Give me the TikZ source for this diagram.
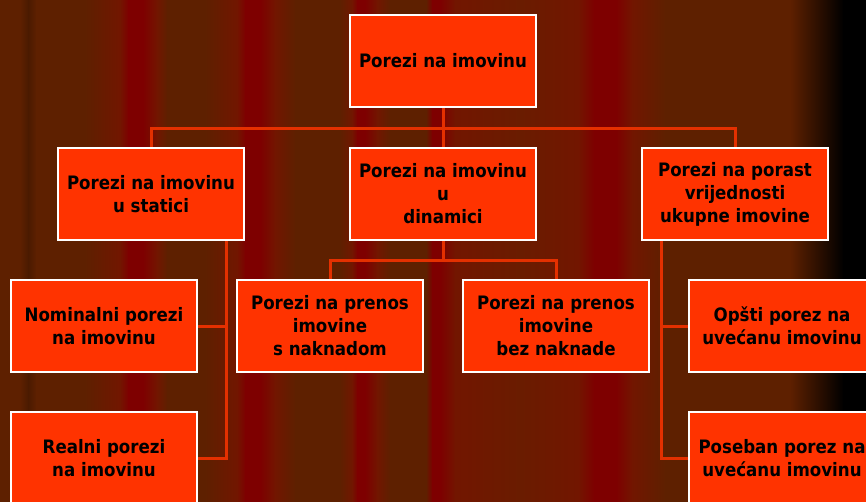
\documentclass[tikz,border=0pt]{standalone}
\usepackage{fontspec}
\newfontfamily\boxfont{DejaVu Sans Condensed}

\definecolor{brn}{RGB}{94,32,0}
\definecolor{drk}{RGB}{74,26,0}
\definecolor{crim}{RGB}{126,0,0}
\definecolor{rdsh}{RGB}{114,22,0}
\definecolor{mid}{RGB}{106,28,0}
\definecolor{boxfill}{RGB}{255,51,0}
\definecolor{wire}{RGB}{228,48,0}

\tikzset{
  box/.style={draw=white, line width=2.5pt, fill=boxfill, minimum width=186pt,
    minimum height=92pt, inner sep=0pt, align=center,
    font=\boxfont\bfseries\fontsize{18.5}{23}\selectfont},
  link/.style={draw=wire, line width=3pt}
}

\begin{document}
\begin{tikzpicture}[x=1pt,y=-1pt]
\useasboundingbox (0,0) rectangle (866,501);
\clip (0,0) rectangle (866,501);
% striped background
\foreach \xa/\ca/\xb/\cb in {0/brn/20/brn, 20/brn/28/drk, 28/drk/36/brn, 36/brn/85/brn,
    85/brn/120/rdsh, 120/rdsh/128/crim, 128/crim/143/crim, 143/crim/157/rdsh, 157/rdsh/167/brn,
    167/brn/205/brn, 205/brn/237/rdsh, 237/rdsh/245/crim, 245/crim/260/crim, 260/crim/275/rdsh,
    275/rdsh/295/brn, 295/brn/340/brn, 340/brn/352/rdsh, 352/rdsh/357/crim, 357/crim/365/crim,
    365/crim/377/rdsh, 377/rdsh/390/brn, 390/brn/426/brn, 426/brn/432/crim, 432/crim/440/crim,
    440/crim/455/rdsh, 455/rdsh/520/mid, 520/mid/578/rdsh, 578/rdsh/594/crim, 594/crim/616/crim,
    616/crim/632/rdsh, 632/rdsh/665/brn, 665/brn/790/brn, 790/brn/843/black, 843/black/866/black}
  \shade [left color=\ca, right color=\cb] (\xa,0) rectangle ({\xb+0.6},501);

\node [box] (top)   at (443,61)  {Porezi na imovinu};
\node [box] (stat)  at (151,194) {Porezi na imovinu\\u statici};
\node [box] (dyn)   at (443,194) {Porezi na imovinu\\u\\dinamici};
\node [box] (rast)  at (735,194) {Porezi na porast\\vrijednosti\\ukupne imovine};
\node [box] (snak)  at (330,326) {Porezi na prenos\\imovine\\s naknadom};
\node [box] (bez)   at (556,326) {Porezi na prenos\\imovine\\bez naknade};
\node [box] (nom)   at (104,326) {Nominalni porezi\\na imovinu};
\node [box] (real)  at (104,458) {Realni porezi\\na imovinu};
\node [box] (opsti) at (782,326) {Opšti porez na\\uvećanu imovinu};
\node [box] (poseb) at (782,458) {Poseban porez na\\uvećanu imovinu};

\coordinate (split1) at (443,128);
\coordinate (split2) at (443,260);
\coordinate (lbus) at (226,458);
\coordinate (rbus) at (661,458);

\draw [link] (top)  -- (split1);
\draw [link] (split1) -| (stat);
\draw [link] (split1) -- (dyn);
\draw [link] (split1) -| (rast);
\draw [link] (dyn)  -- (split2);
\draw [link] (split2) -| (snak);
\draw [link] (split2) -| (bez);
\draw [link] (stat.south -| lbus) |- (real);
\draw [link] (nom)  -- (nom -| lbus);
\draw [link] (rast.south -| rbus) |- (poseb);
\draw [link] (opsti) -- (opsti -| rbus);
\end{tikzpicture}
\end{document}
